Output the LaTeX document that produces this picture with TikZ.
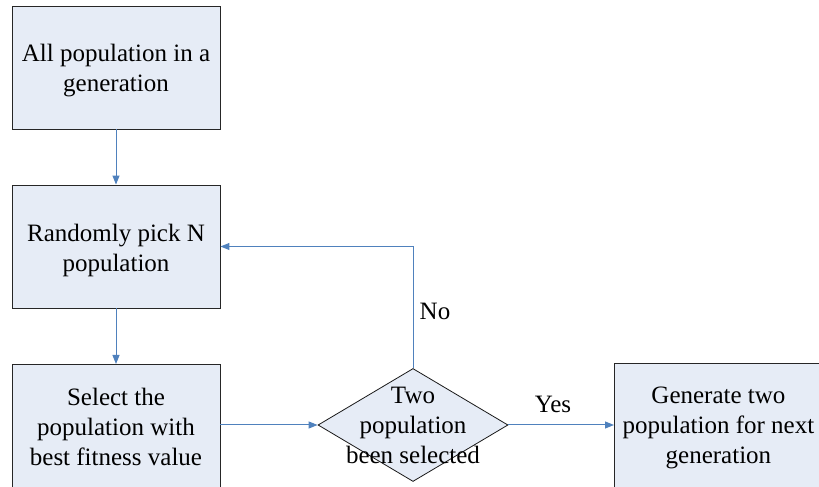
\documentclass[tikz,border=0pt]{standalone}
\usepackage{fontspec}
\setmainfont{Liberation Serif}[Ligatures=TeX]
\usetikzlibrary{shapes.geometric,arrows.meta}
\definecolor{boxfill}{RGB}{230,236,246}
\definecolor{linkblue}{RGB}{79,129,189}
\tikzset{
  x=1pt,y=1pt,
  procbox/.style={draw=black!85,fill=boxfill,line width=0.9pt,minimum width=208pt,minimum height=123pt,inner sep=0pt},
  decbox/.style={draw=black!90,fill=boxfill,line width=0.8pt,shape=diamond,minimum width=190pt,minimum height=113pt,inner sep=0pt},
  link/.style={draw=linkblue,line width=1pt,-{Triangle[length=9pt,width=7pt]}},
  lbl/.style={font=\rmfamily\fontsize{25}{30}\selectfont,inner sep=0pt,align=center}
}
\begin{document}
\begin{tikzpicture}
\useasboundingbox (0,0) rectangle (819,487);
\clip (0,0) rectangle (819,487);
\node[procbox,label={[lbl,yshift=-3pt]center:All population in a\\generation}] (b1) at (116,419.5) {};
\node[procbox,label={[lbl,yshift=-3.5pt]center:Randomly pick N\\population}] (b2) at (116,240.5) {};
\node[procbox,minimum height=128pt,anchor=north,label={[lbl,yshift=2pt]center:Select the\\population with\\best fitness value}] (b3) at (116,123) {};
\node[procbox,minimum height=128pt,anchor=north west,label={[lbl]center:Generate two\\population for next\\generation}] (b4) at (614,124) {};
\node[decbox,label={[lbl]center:Two\\population\\been selected}] (d) at (413,62) {};
\draw[link] (b1) -- (b2);
\draw[link] (b2) -- (b3);
\draw[link] (b3.east |- d) -- (d.west);
\draw[link] (d.east) -- (b4.west |- d);
\draw[link] (d.north) |- (b2.east);
\node[lbl] (no) at (435,176) {No};
\node[lbl] (yes) at (553,83) {Yes};
\end{tikzpicture}
\end{document}
